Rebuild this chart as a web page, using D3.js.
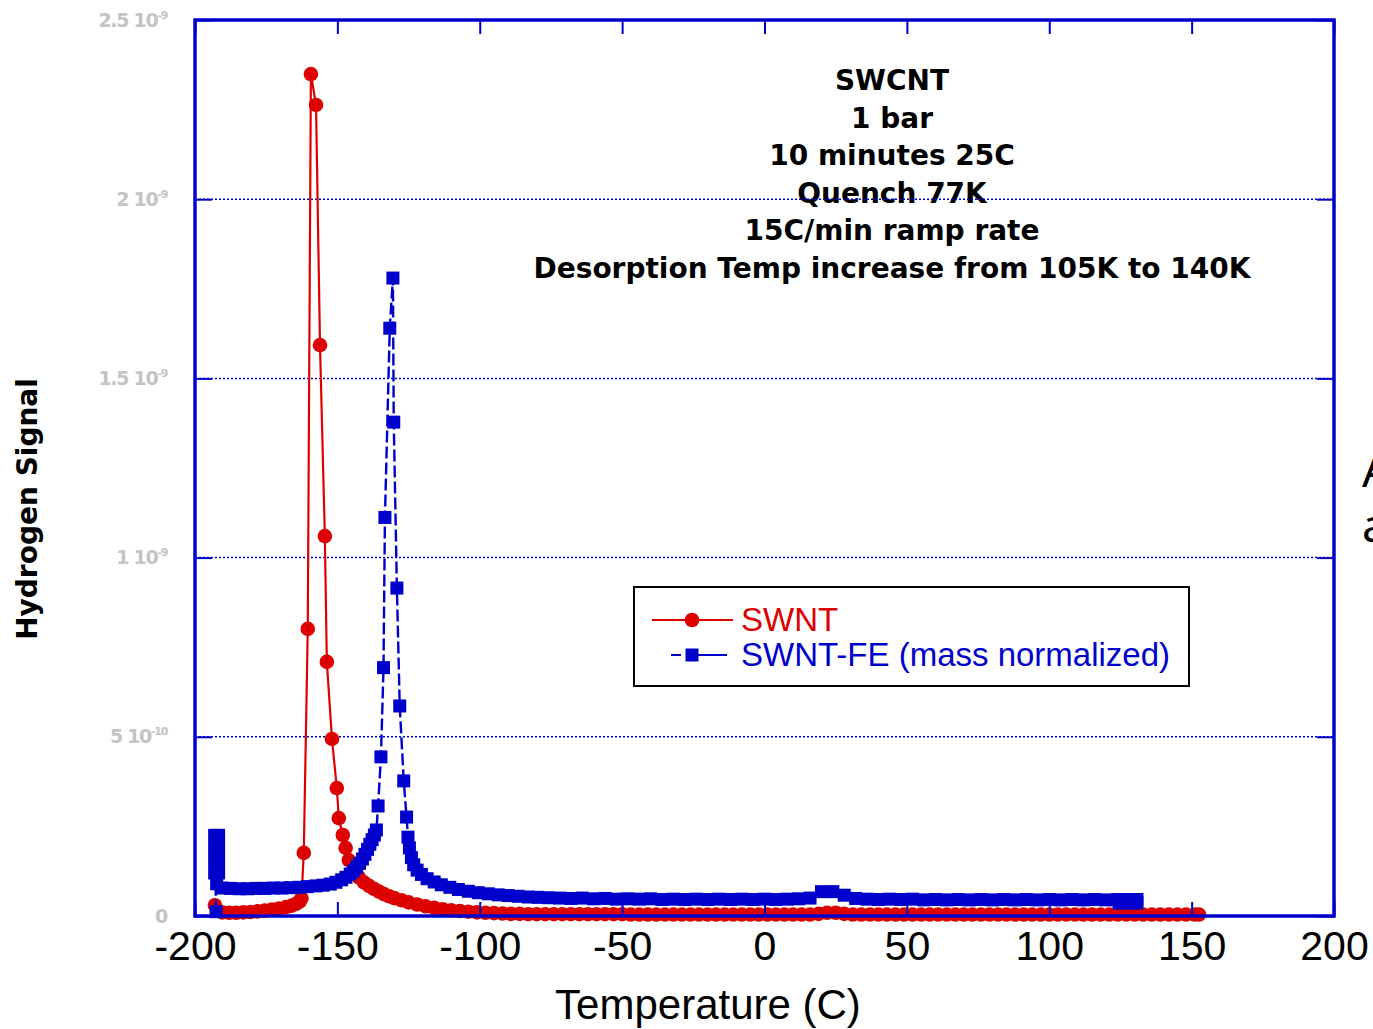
<!DOCTYPE html>
<html>
<head>
<meta charset="utf-8">
<script src="https://cdn.jsdelivr.net/npm/d3@7"></script>
<style>
  body { margin: 0; background: #fff; }
  svg { display: block; }
</style>
</head>
<body>
<div id="chart"></div>
<script>
const width = 1373;
const height = 1029;

// x ticks (Temperature, C)
const xTicks = [-200, -150, -100, -50, 0, 50, 100, 150, 200];

// y ticks, stored in units of 1e-9
const yTicks = [0, 0.5, 1, 1.5, 2, 2.5];
const yTickMant = ['0', '5', '1', '1.5', '2', '2.5'];
const yTickExp = ['', '-10', '-9', '-9', '-9', '-9'];

const noteLines = [
  'SWCNT',
  '1 bar',
  '10 minutes 25C',
  'Quench 77K',
  '15C/min ramp rate',
  'Desorption Temp increase from 105K to 140K'
];

const seriesNames = ['SWNT', 'SWNT-FE (mass normalized)'];

// SWNT (red), signal in units of 1e-9
const swntTemp = [
  -193.0, -190.5, -188.0, -185.5, -183.0, -180.5, -178.0, -175.5, -173.0, -170.5,
  -168.0, -166.0, -164.5, -163.3, -162.6, -161.8, -160.4, -159.3, -157.5, -156.1,
  -154.4, -153.7, -151.9, -150.2, -149.5, -148.1, -147.1, -146.0, -144.3, -142.5,
  -140.7, -138.9, -137.2, -135.4, -133.6, -131.8, -130.0, -127.5, -125.0, -122.0,
  -119.0, -116.0, -113.0, -110.0, -107.0, -104.0, -101.0, -98.0, -95.0, -92.0,
  -89.0, -86.0, -83.0,
  -80, -77, -74, -71, -68, -65, -62, -59, -56, -53, -50,
  -47, -44, -41, -38, -35, -32, -29, -26, -23, -20, -17, -14, -11, -8, -5, -2, 1, 4, 7, 10, 13, 16,
  19, 22, 25, 28,
  31, 34, 37, 40, 43, 46, 49, 52, 55, 58, 61, 64, 67, 70, 73, 76, 79, 82, 85, 88,
  91, 94, 97, 100, 103, 106, 109, 112, 115, 118, 121, 124, 127, 130, 133, 136, 139, 142,
  145, 148, 151, 152.6
];
const swntSignal = [
  0.030, 0.010, 0.009, 0.009, 0.010, 0.011, 0.013, 0.015, 0.018, 0.021,
  0.025, 0.029, 0.034, 0.040, 0.050, 0.176, 0.801, 2.349, 2.263, 1.593,
  1.060, 0.709, 0.494, 0.357, 0.273, 0.226, 0.190, 0.156, 0.128, 0.108,
  0.094, 0.084, 0.076, 0.068, 0.061, 0.055, 0.050, 0.044, 0.038, 0.032,
  0.027, 0.023, 0.019, 0.016, 0.014, 0.012, 0.010, 0.009, 0.008, 0.007,
  0.006, 0.006, 0.005,
  0.005, 0.005, 0.005, 0.005, 0.005, 0.005, 0.005, 0.005, 0.005, 0.005, 0.005,
  0.004, 0.004, 0.004, 0.004, 0.004, 0.004, 0.004, 0.004, 0.004, 0.004, 0.004, 0.004, 0.004, 0.004, 0.004, 0.004, 0.004, 0.004, 0.004, 0.004, 0.004, 0.004,
  0.006, 0.009, 0.009, 0.006,
  0.004, 0.004, 0.004, 0.004, 0.004, 0.004, 0.004, 0.004, 0.004, 0.004, 0.004, 0.004, 0.004, 0.004, 0.004, 0.004, 0.004, 0.004, 0.004, 0.004,
  0.004, 0.004, 0.004, 0.004, 0.004, 0.004, 0.004, 0.004, 0.004, 0.004, 0.004, 0.004, 0.004, 0.004, 0.004, 0.004, 0.004, 0.004,
  0.004, 0.004, 0.004, 0.004
];

// SWNT-FE mass normalized (blue), signal in units of 1e-9
const feTemp = [
  -192.6, -193.1, -191.7, -193.1, -191.7, -193.1, -191.7, -193.1, -191.7, -192.4,
  -190.5, -187.5, -184.5, -181.5,
  -178.5, -175.5, -172.5, -169.5, -166.5, -163.5, -160.5, -157.5, -155.0, -152.5,
  -150.5, -148.5, -147.0, -145.5, -144.3, -143.2, -142.2, -141.2, -140.3, -139.4,
  -138.6, -137.8, -137.0, -136.3, -135.7, -134.7, -133.8, -133.3, -131.6, -130.5,
  -130.2, -129.1, -128.1, -126.7, -125.7, -125.2, -124.7, -124.0, -123.2, -122.0,
  -120.5, -118.5, -116.0, -113.5, -110.5, -107.5, -104.0, -100.5, -97.0, -93.5,
  -90.0, -86.5, -83.0, -79.5,
  -76, -72, -68, -64, -60, -56, -52, -48, -44, -40, -36, -32, -28, -24, -20, -16, -12, -8, -4, 0,
  4, 8, 12, 16, 20, 24, 28, 32, 36, 40, 44, 48, 52, 56, 60, 64, 68, 72, 76, 80,
  84, 88, 92, 96, 100, 104, 108, 112, 116, 120, 124,
  127.5, 130.8, 130.8, 127.5, 124.5
];
const feSignal = [
  0.012, 0.225, 0.225, 0.190, 0.190, 0.155, 0.155, 0.120, 0.120, 0.090,
  0.078, 0.077, 0.076, 0.076,
  0.077, 0.077, 0.078, 0.078, 0.079, 0.080, 0.082, 0.084, 0.086, 0.089,
  0.094, 0.101, 0.108, 0.117, 0.126, 0.136, 0.147, 0.159, 0.172, 0.186,
  0.200, 0.213, 0.226, 0.240, 0.307, 0.444, 0.693, 1.112, 1.640, 1.780,
  1.378, 0.915, 0.586, 0.377, 0.276, 0.220, 0.190, 0.163, 0.143, 0.128,
  0.116, 0.104, 0.095, 0.087, 0.080, 0.074, 0.069, 0.065, 0.062, 0.059,
  0.057, 0.055, 0.053, 0.052,
  0.051, 0.050, 0.049, 0.050, 0.048, 0.049, 0.047, 0.048, 0.047, 0.048, 0.046, 0.047, 0.046, 0.047, 0.046, 0.047, 0.046, 0.047, 0.046, 0.047,
  0.046, 0.047, 0.048, 0.050, 0.068, 0.068, 0.058, 0.049, 0.047, 0.046, 0.047, 0.046, 0.047, 0.045, 0.046, 0.045, 0.046, 0.045, 0.046, 0.045,
  0.046, 0.045, 0.046, 0.045, 0.046, 0.045, 0.046, 0.045, 0.046, 0.045, 0.046,
  0.046, 0.046, 0.036, 0.036, 0.036
];

const red = '#dd0000';
const blue = '#0000cc';

const svg = d3.select('#chart')
  .append('svg')
  .attr('width', width)
  .attr('height', height);

const x = d3.scaleLinear().domain([-200, 200]).range([195, 1334]);
const y = d3.scaleLinear().domain([0, 2.5]).range([916, 20]);

// notes block
svg.append('g')
  .selectAll('text')
  .data(noteLines)
  .enter()
  .append('text')
  .attr('x', 892)
  .attr('y', (d, i) => 90 + i * 37.6)
  .attr('text-anchor', 'middle')
  .attr('font-family', 'DejaVu Sans')
  .attr('font-weight', 'bold')
  .attr('font-size', 28)
  .attr('fill', '#000')
  .text((d) => d);

// dotted grid
svg.append('g')
  .selectAll('line')
  .data(yTicks.filter((d) => d > 0 && d < 2.5))
  .enter()
  .append('line')
  .attr('x1', x(-200))
  .attr('x2', x(200))
  .attr('y1', (d) => y(d))
  .attr('y2', (d) => y(d))
  .attr('stroke', blue)
  .attr('stroke-width', 1.5)
  .attr('stroke-dasharray', '2,2');

// series
const swnt = swntTemp.map((t, i) => ({ t: t, v: swntSignal[i] }));
const fe = feTemp.map((t, i) => ({ t: t, v: feSignal[i] }));

const line = d3.line().x((d) => x(d.t)).y((d) => y(d.v));

svg.append('path')
  .datum(swnt)
  .attr('d', line)
  .attr('fill', 'none')
  .attr('stroke', red)
  .attr('stroke-width', 2.2);

svg.append('g')
  .selectAll('circle')
  .data(swnt)
  .enter()
  .append('circle')
  .attr('cx', (d) => x(d.t))
  .attr('cy', (d) => y(d.v))
  .attr('r', 7.3)
  .attr('fill', red);

svg.append('path')
  .datum(fe)
  .attr('d', line)
  .attr('fill', 'none')
  .attr('stroke', blue)
  .attr('stroke-width', 2.4)
  .attr('stroke-dasharray', '12,4');

const sq = 13;
svg.append('g')
  .selectAll('rect')
  .data(fe)
  .enter()
  .append('rect')
  .attr('x', (d) => x(d.t) - sq / 2)
  .attr('y', (d) => y(d.v) - sq / 2)
  .attr('width', sq)
  .attr('height', sq)
  .attr('fill', blue);

// frame
svg.append('rect')
  .attr('x', x(-200))
  .attr('y', y(2.5))
  .attr('width', x(200) - x(-200))
  .attr('height', y(0) - y(2.5))
  .attr('fill', 'none')
  .attr('stroke', blue)
  .attr('stroke-width', 3.5);

// axes
function styleAxis(g) {
  g.select('.domain').remove();
  g.selectAll('.tick line').attr('stroke', blue).attr('stroke-width', 2);
}

const xAxis = svg.append('g')
  .attr('transform', 'translate(0,' + y(0) + ')')
  .call(d3.axisBottom(x).tickValues(xTicks).tickSizeInner(-14).tickSizeOuter(0)
    .tickPadding(15).tickFormat((d) => String(d)))
  .call(styleAxis);
xAxis.selectAll('text')
  .attr('font-family', 'Liberation Sans, Arial, sans-serif')
  .attr('font-size', 41)
  .attr('fill', '#000');

svg.append('g')
  .attr('transform', 'translate(0,' + y(2.5) + ')')
  .call(d3.axisTop(x).tickValues(xTicks).tickSizeInner(-14).tickSizeOuter(0).tickFormat(''))
  .call(styleAxis);

const yAxis = svg.append('g')
  .attr('transform', 'translate(' + x(-200) + ',0)')
  .call(d3.axisLeft(y).tickValues(yTicks).tickSizeInner(-17).tickSizeOuter(0)
    .tickPadding(28).tickFormat(''))
  .call(styleAxis);

yAxis.selectAll('.tick text')
  .attr('font-family', 'DejaVu Sans')
  .attr('font-weight', 'bold')
  .attr('font-size', 19)
  .attr('fill', '#c4c4c4')
  .attr('letter-spacing', -1.3)
  .each(function (d, i) {
    const t = d3.select(this);
    t.text(null);
    t.append('tspan').text(yTickExp[i] ? yTickMant[i] + ' 10' : yTickMant[i]);
    if (yTickExp[i]) {
      t.append('tspan')
        .attr('dy', -8)
        .attr('font-size', 11)
        .text(yTickExp[i]);
    }
  });

svg.append('g')
  .attr('transform', 'translate(' + x(200) + ',0)')
  .call(d3.axisRight(y).tickValues(yTicks).tickSizeInner(-17).tickSizeOuter(0).tickFormat(''))
  .call(styleAxis);

// axis titles
svg.append('text')
  .attr('x', 708)
  .attr('y', 1019)
  .attr('text-anchor', 'middle')
  .attr('font-family', 'Liberation Sans, Arial, sans-serif')
  .attr('font-size', 42)
  .attr('fill', '#000')
  .text('Temperature (C)');

svg.append('text')
  .attr('transform', 'translate(37,509) rotate(-90)')
  .attr('text-anchor', 'middle')
  .attr('font-family', 'DejaVu Sans')
  .attr('font-weight', 'bold')
  .attr('font-size', 28)
  .attr('fill', '#000')
  .text('Hydrogen Signal');

// legend
const legend = svg.append('g');
legend.append('rect')
  .attr('x', 634)
  .attr('y', 587)
  .attr('width', 555)
  .attr('height', 99)
  .attr('fill', '#fff')
  .attr('stroke', '#000')
  .attr('stroke-width', 2);

legend.append('line')
  .attr('x1', 652).attr('x2', 733).attr('y1', 620).attr('y2', 620)
  .attr('stroke', red).attr('stroke-width', 2);
legend.append('circle')
  .attr('cx', 692).attr('cy', 620).attr('r', 7.3).attr('fill', red);

legend.append('line')
  .attr('x1', 671).attr('x2', 681).attr('y1', 655).attr('y2', 655)
  .attr('stroke', blue).attr('stroke-width', 2);
legend.append('line')
  .attr('x1', 692).attr('x2', 727).attr('y1', 655).attr('y2', 655)
  .attr('stroke', blue).attr('stroke-width', 2);
legend.append('rect')
  .attr('x', 692 - sq / 2).attr('y', 655 - sq / 2)
  .attr('width', sq).attr('height', sq).attr('fill', blue);

legend.selectAll('text.lg')
  .data(seriesNames)
  .enter()
  .append('text')
  .attr('class', 'lg')
  .attr('x', 741)
  .attr('y', (d, i) => 631 + i * 35)
  .attr('font-family', 'Liberation Sans, Arial, sans-serif')
  .attr('font-size', 33)
  .attr('fill', (d, i) => (i === 0 ? red : blue))
  .text((d) => d);

// slide text cut at the right edge
svg.append('g')
  .selectAll('text')
  .data(['A', 'a'])
  .enter()
  .append('text')
  .attr('x', 1362)
  .attr('y', (d, i) => 487 + i * 55)
  .attr('font-family', 'Noto Sans, sans-serif')
  .attr('font-size', 46)
  .attr('fill', '#000')
  .text((d) => d);
</script>
</body>
</html>
